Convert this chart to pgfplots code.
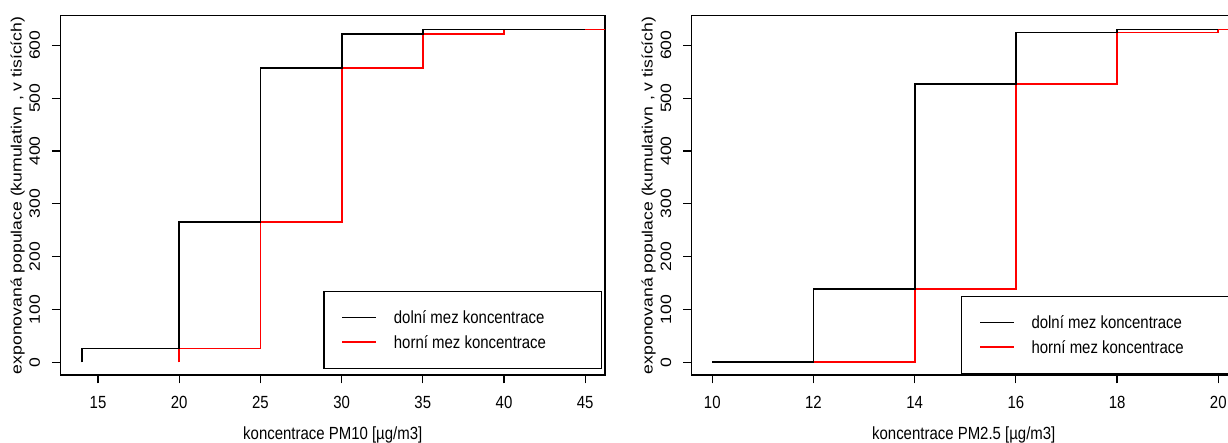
\documentclass[border=0pt]{standalone}
\usepackage{fontspec}
\setmainfont{Liberation Sans}[FakeStretch=0.85]
\newfontfamily\rotfont{Liberation Sans}
\usepackage{graphicx}
\usepackage{pgfplots}
\pgfplotsset{compat=1.18}
\newcommand{\rl}[1]{\scalebox{1}[0.85]{\rotfont #1}}
\newcommand{\lstrut}{\rule[-3pt]{0pt}{14pt}}
\pgfplotsset{
  rstyle/.style={
    scale only axis, width=544.5pt, height=359.3pt,
    anchor=south west,
    axis line style={line width=1.3pt},
    tick style={line width=1.2pt, black},
    tick align=outside, major tick length=8.5pt,
    xtick pos=bottom, ytick pos=left,
    ymin=-24, ymax=656,
    ytick={0,100,...,600},
    /pgf/number format/assume math mode=true,
    font=\fontsize{17.6}{20}\selectfont,
    yticklabel={\rl{\pgfmathprintnumber{\tick}}},
    yticklabel style={xshift=-12pt, rotate=90, anchor=base},
    xticklabel style={anchor=base, yshift=-25.5pt},
    xlabel style={at={(axis description cs:0.5,0)}, anchor=base, yshift=-64.3pt},
    ylabel style={at={(axis description cs:-0.0714,0.5)}, anchor=base, rotate=0},
    ylabel={\rl{exponovaná populace (kumulativn\hspace{0.35em}, v tisících)}},
    legend cell align=left,
    legend image code/.code={\draw[##1] (0pt,0pt) -- (33.5pt,0pt);},
    legend style={anchor=north west, draw=black, fill=white, line width=1.2pt,
      inner xsep=17.6pt, inner ysep=18.6pt, row sep=10.4pt, column sep=17pt,
      nodes={inner sep=0pt}},
  },
  blk/.style={black, line width=1.8pt, const plot},
  rd/.style={red, line width=1.8pt, const plot},
}
\begin{document}
\begin{tikzpicture}
\useasboundingbox (0,0) rectangle (1228pt,443pt);
\clip (0,0) rectangle (1228pt,443pt);
% PM10
\begin{axis}[rstyle, at={(60.5pt,68pt)},
  xmin=12.69, xmax=46.22, xtick={15,20,...,45},
  xlabel={koncentrace PM10 [µg/m3]},
  legend style={at={(rel axis cs:0.4828,0.2338)}}]
\addplot[rd, forget plot] coordinates {(20,0) (20,26) (25,265) (30,557) (35,621) (40,630) (50,630)};
\addplot[blk, forget plot] coordinates {(14,0) (14,26) (20,265) (25,557) (30,621) (35,630) (45,630)};
\addlegendimage{black, line width=1.8pt}
\addlegendentry{\makebox[190pt][l]{\lstrut dolní mez koncentrace}}
\addlegendimage{red, line width=1.8pt}
\addlegendentry{\makebox[190pt][l]{\lstrut horní mez koncentrace}}
\end{axis}
% PM2.5
\begin{axis}[rstyle, at={(691.5pt,68pt)},
  xmin=9.59, xmax=20.35, xtick={10,12,...,20},
  xlabel={koncentrace PM2.5 [µg/m3]},
  legend style={at={(rel axis cs:0.495,0.2199)}}]
\addplot[rd, forget plot] coordinates {(12,0) (14,138) (16,527) (18,624) (20,630) (22,630)};
\addplot[blk, forget plot] coordinates {(10,0) (12,138) (14,527) (16,624) (18,630) (20,630)};
\addlegendimage{black, line width=1.8pt}
\addlegendentry{\makebox[190pt][l]{\lstrut dolní mez koncentrace}}
\addlegendimage{red, line width=1.8pt}
\addlegendentry{\makebox[190pt][l]{\lstrut horní mez koncentrace}}
\end{axis}
\end{tikzpicture}
\end{document}
